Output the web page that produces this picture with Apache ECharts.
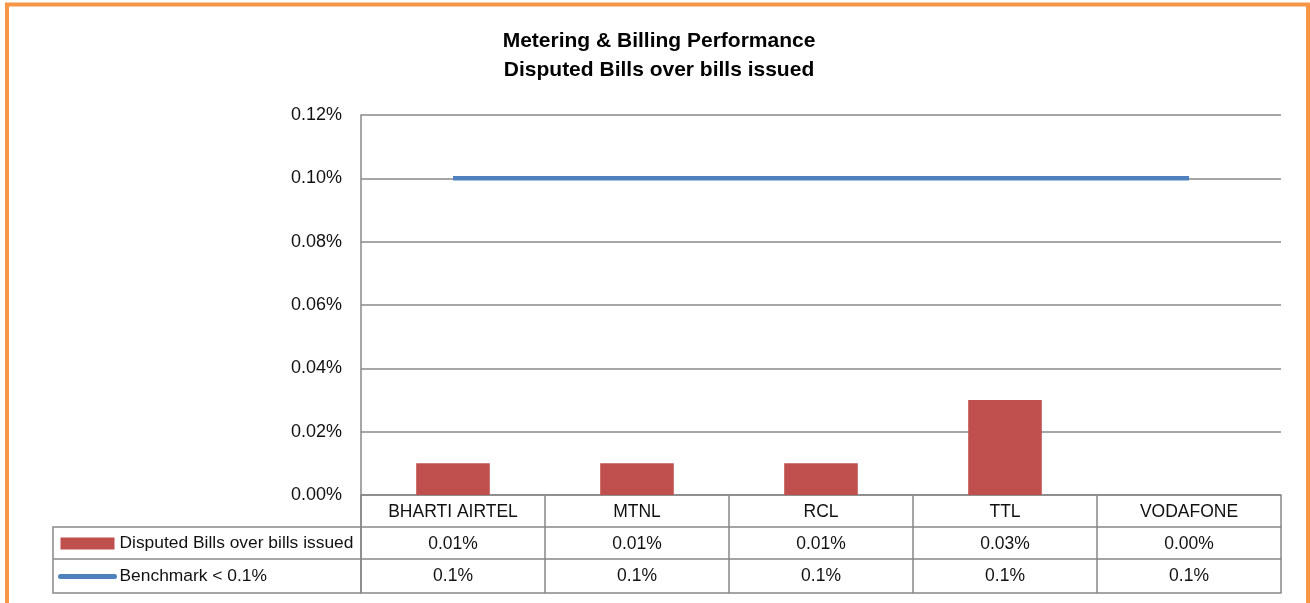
<!DOCTYPE html>
<html lang="en">
<head>
    <meta charset="UTF-8">
    <title>Disputed Bills</title>
    <script src="https://cdn.jsdelivr.net/npm/echarts@6/dist/echarts.min.js"></script>
    <style>
        body { margin: 0; background: #fff; }
        #chart { width: 1310px; height: 603px; }
    </style>
</head>
<body>
<div id="chart"></div>
<script type="text/javascript">
    // operators and values (percent)
    var operators = ['BHARTI AIRTEL', 'MTNL', 'RCL', 'TTL', 'VODAFONE'];
    var disputed = [0.01, 0.01, 0.01, 0.03, 0.00];
    var benchmark = [0.1, 0.1, 0.1, 0.1, 0.1];
    var disputedName = 'Disputed Bills over bills issued';
    var benchName = 'Benchmark < 0.1%';

    var font = "'Liberation Sans Narrow', 'Arial Narrow', 'Liberation Sans', sans-serif";
    var gridColor = '#888888';

    // table rows are extra category axes stacked under the plot
    function tableAxis(data, offset, tickLen, fmt) {
        return {
            type: 'category',
            position: 'bottom',
            offset: offset,
            data: data,
            axisLine: { show: true, lineStyle: { color: gridColor, width: 1.5 } },
            axisTick: { show: tickLen > 0, length: tickLen, interval: 0, lineStyle: { color: gridColor, width: 1.5 } },
            axisLabel: {
                show: !!fmt, interval: 0, margin: 8,
                color: '#111', fontSize: 17.5, fontFamily: font,
                formatter: fmt
            }
        };
    }

    var chart = echarts.init(document.getElementById('chart'));

    var option = {
        animation: false,
        title: {
            text: 'Metering & Billing Performance\nDisputed Bills over bills issued',
            left: 654,
            textAlign: 'center',
            top: 22,
            textStyle: { fontFamily: font, fontWeight: 'bold', fontSize: 21, lineHeight: 29, color: '#000' }
        },
        grid: { left: 361, right: 29, top: 115, bottom: 108 },
        legend: {
            orient: 'vertical',
            left: 58,
            top: 535,
            itemWidth: 54,
            itemHeight: 12,
            itemGap: 16,
            padding: 0,
            textStyle: { fontFamily: font, fontSize: 17.4, color: '#111' },
            data: [
                { name: disputedName, icon: 'rect' },
                { name: benchName, itemStyle: { opacity: 0 }, lineStyle: { width: 5, cap: 'round' } }
            ]
        },
        xAxis: [
            tableAxis(operators, 0, 32, function (v) { return v; }),
            tableAxis(disputed, 32, 32, function (v) { return Number(v).toFixed(2) + '%'; }),
            tableAxis(benchmark, 64, 34, function (v) { return Number(v).toFixed(1) + '%'; }),
            tableAxis(operators, 98, 0, null)
        ],
        yAxis: {
            type: 'value',
            min: 0,
            max: 0.12,
            interval: 0.02,
            axisLine: { show: true, lineStyle: { color: gridColor, width: 1.5 } },
            axisTick: { show: false },
            splitLine: { lineStyle: { color: gridColor, width: 1.5 } },
            axisLabel: {
                margin: 19, color: '#111', fontSize: 18, fontFamily: font,
                formatter: function (v) { return v.toFixed(2) + '%'; }
            }
        },
        series: [
            {
                name: disputedName,
                type: 'bar',
                barWidth: '40%',
                data: disputed,
                itemStyle: { color: '#C0504D' }
            },
            {
                name: benchName,
                type: 'line',
                symbol: 'none',
                data: benchmark,
                lineStyle: { color: '#4F81BD', width: 4.5 },
                itemStyle: { color: '#4F81BD' }
            }
        ],
        graphic: [
            // orange frame of the slide
            { type: 'rect', silent: true, shape: { x: 7, y: 4.5, width: 1301, height: 700 },
              style: { fill: 'none', stroke: '#F79646', lineWidth: 4 } },
            // legend column of the data table
            { type: 'polyline', silent: true, shape: { points: [[361, 527], [53, 527], [53, 593], [361, 593]] },
              style: { fill: 'none', stroke: gridColor, lineWidth: 1.5 } },
            { type: 'line', silent: true, shape: { x1: 53, y1: 559, x2: 361, y2: 559 },
              style: { stroke: gridColor, lineWidth: 1.5 } },
            { type: 'line', silent: true, shape: { x1: 361, y1: 495, x2: 361, y2: 593 },
              style: { stroke: gridColor, lineWidth: 1.5 } }
        ]
    };

    chart.setOption(option);
</script>
</body>
</html>
